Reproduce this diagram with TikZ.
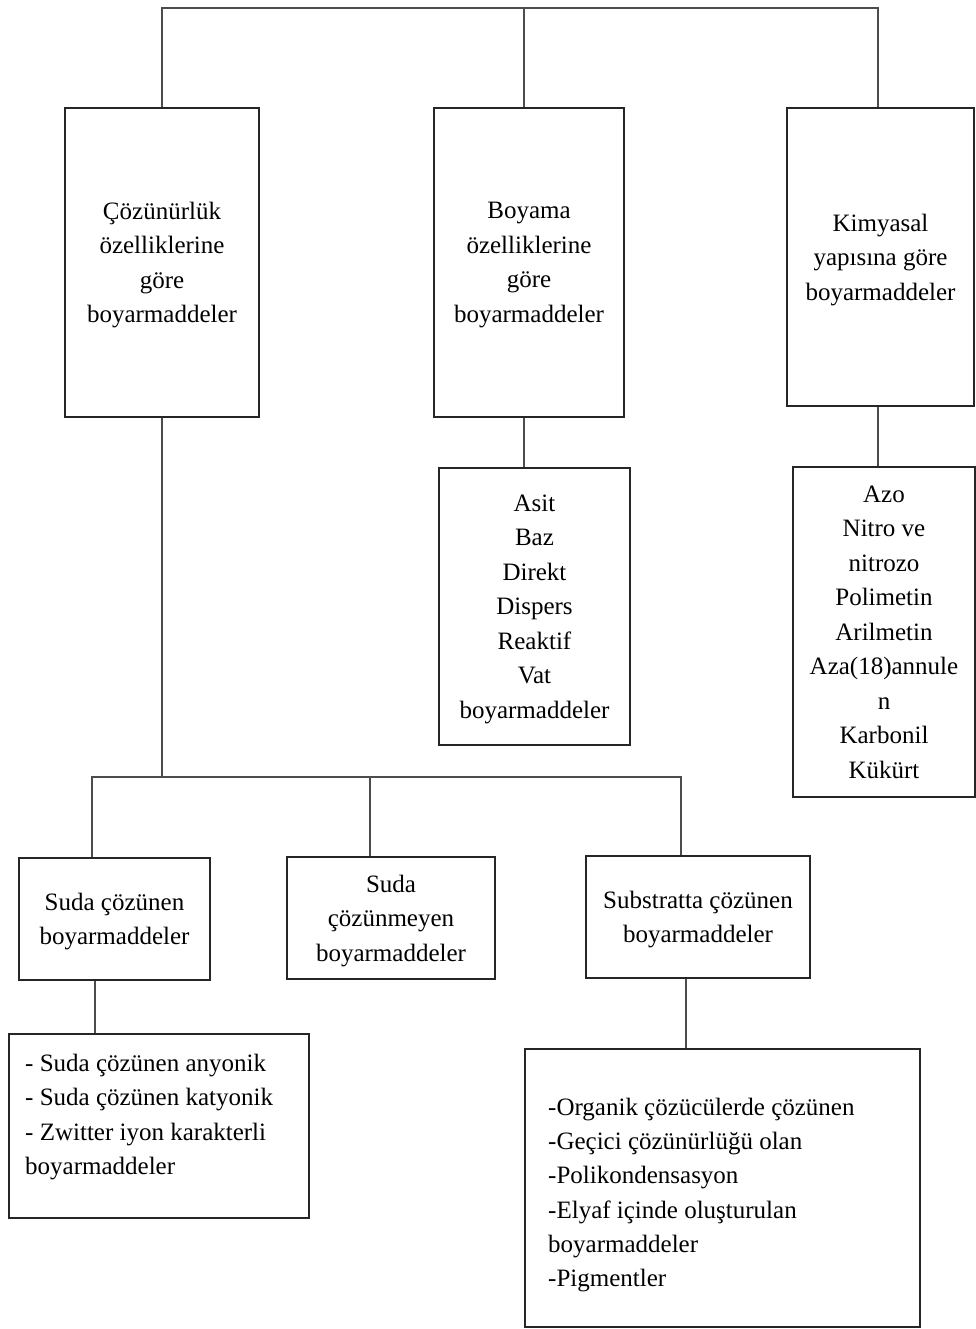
\documentclass[tikz,border=0pt]{standalone}
\usepackage{fontspec}
\setmainfont{Liberation Serif}
\begin{document}
\begin{tikzpicture}[x=1pt,y=-1pt,
  box/.style={draw=black!85, line width=2pt, inner sep=0pt, align=center, text depth=-4pt, font=\fontsize{25}{34.5}\selectfont},
  conn/.style={draw=black!70, line width=1.1pt},
  txt/.style={inner sep=0pt, align=left, font=\fontsize{25}{34.3}\selectfont}]
\useasboundingbox (0,0) rectangle (976,1329);
% top level
\node[box, minimum width=194, minimum height=309] (b1) at (162,262.5) {Çözünürlük\\özelliklerine\\göre\\boyarmaddeler};
\node[box, minimum width=190, minimum height=309] (b2) at (529,262.5) {Boyama\\özelliklerine\\göre\\boyarmaddeler};
\node[box, minimum width=187, minimum height=298] (b3) at (880.5,257) {Kimyasal\\yapısına göre\\boyarmaddeler};
% second level
\node[box, minimum width=191, minimum height=277] (a1) at (534.5,606.5) {Asit\\Baz\\Direkt\\Dispers\\Reaktif\\Vat\\boyarmaddeler};
\node[box, minimum width=182, minimum height=330] (azo) at (884,632) {Azo\\Nitro ve\\nitrozo\\Polimetin\\Arilmetin\\Aza(18)annule\\n\\Karbonil\\Kükürt};
\node[box, minimum width=191, minimum height=122] (s1) at (114.5,919) {Suda çözünen\\boyarmaddeler};
\node[box, minimum width=208, minimum height=122] (s2) at (391,918) {Suda\\çözünmeyen\\boyarmaddeler};
\node[box, minimum width=224, minimum height=122] (s3) at (698,917) {Substratta çözünen\\boyarmaddeler};
% lists
\node[box, minimum width=300, minimum height=184] (l1) at (159,1126) {};
\node[txt, anchor=west] (l1t) at (25,1117) {- Suda çözünen anyonik\\- Suda çözünen katyonik\\- Zwitter iyon karakterli\\boyarmaddeler};
\node[box, minimum width=395, minimum height=278] (l2) at (722.5,1188) {};
\node[txt, anchor=west] (l2t) at (548,1195) {-Organik çözücülerde çözünen\\-Geçici çözünürlüğü olan\\-Polikondensasyon\\-Elyaf içinde oluşturulan\\boyarmaddeler\\-Pigmentler};
% connectors
\coordinate (top) at (524,8);
\coordinate (rc) at (878,8);
\draw[conn] (b1.north) |- (top) -- (rc) -- (rc |- b3.north);
\draw[conn] (top) -- (top |- b2.north);
\draw[conn] (top |- b2.south) -- (top |- a1.north);
\draw[conn] (rc |- b3.south) -- (rc |- azo.north);
\coordinate (bl) at (92,777);
\coordinate (bm) at (370,777);
\coordinate (br) at (681,777);
\draw[conn] (b1.south) -- (b1.south |- bl);
\draw[conn] (bl |- s1.north) -- (bl) -- (br) -- (br |- s3.north);
\draw[conn] (bm) -- (bm |- s2.north);
\coordinate (c1) at (95,0);
\coordinate (c3) at (686,0);
\draw[conn] (c1 |- s1.south) -- (c1 |- l1.north);
\draw[conn] (c3 |- s3.south) -- (c3 |- l2.north);
\end{tikzpicture}
\end{document}
